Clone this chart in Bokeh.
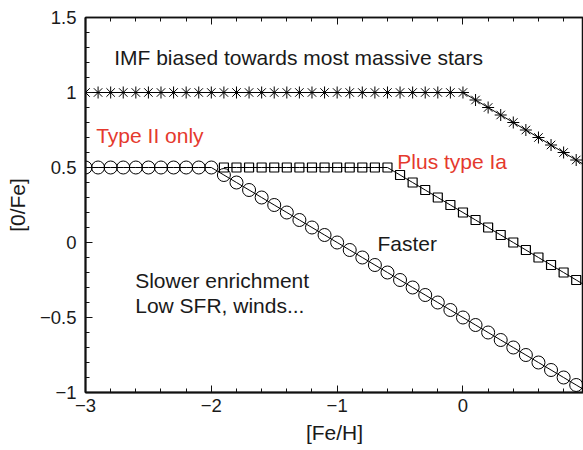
from bokeh.plotting import figure
from bokeh.models import (Range1d, LinearAxis, FixedTicker, CustomJSTickFormatter, Label,
                          CustomLabelingPolicy)
from bokeh.embed import file_html
from bokeh.resources import INLINE

# ---- data ----
stars_x = [-3.0, -2.9, -2.8, -2.7, -2.6, -2.5, -2.4, -2.3, -2.2, -2.1,
           -2.0, -1.9, -1.8, -1.7, -1.6, -1.5, -1.4, -1.3, -1.2, -1.1,
           -1.0, -0.9, -0.8, -0.7, -0.6, -0.5, -0.4, -0.3, -0.2, -0.1,
           0.0, 0.1, 0.2, 0.3, 0.4, 0.5, 0.6, 0.7, 0.8, 0.9, 1.0]
stars_y = [1.0, 1.0, 1.0, 1.0, 1.0, 1.0, 1.0, 1.0, 1.0, 1.0,
           1.0, 1.0, 1.0, 1.0, 1.0, 1.0, 1.0, 1.0, 1.0, 1.0,
           1.0, 1.0, 1.0, 1.0, 1.0, 1.0, 1.0, 1.0, 1.0, 1.0,
           1.0, 0.95, 0.90, 0.85, 0.80, 0.75, 0.70, 0.65, 0.60, 0.55, 0.50]

circles_x = [-3.0, -2.9, -2.8, -2.7, -2.6, -2.5, -2.4, -2.3, -2.2, -2.1,
             -2.0, -1.9, -1.8, -1.7, -1.6, -1.5, -1.4, -1.3, -1.2, -1.1,
             -1.0, -0.9, -0.8, -0.7, -0.6, -0.5, -0.4, -0.3, -0.2, -0.1,
             0.0, 0.1, 0.2, 0.3, 0.4, 0.5, 0.6, 0.7, 0.8, 0.9, 1.0]
circles_y = [0.5, 0.5, 0.5, 0.5, 0.5, 0.5, 0.5, 0.5, 0.5, 0.5,
             0.5, 0.45, 0.40, 0.35, 0.30, 0.25, 0.20, 0.15, 0.10, 0.05,
             0.0, -0.05, -0.10, -0.15, -0.20, -0.25, -0.30, -0.35, -0.40, -0.45,
             -0.50, -0.55, -0.60, -0.65, -0.70, -0.75, -0.80, -0.85, -0.90, -0.95, -1.0]

squares_x = [-1.9, -1.8, -1.7, -1.6, -1.5, -1.4, -1.3, -1.2, -1.1,
             -1.0, -0.9, -0.8, -0.7, -0.6, -0.5, -0.4, -0.3, -0.2, -0.1,
             0.0, 0.1, 0.2, 0.3, 0.4, 0.5, 0.6, 0.7, 0.8, 0.9, 1.0]
squares_y = [0.5, 0.5, 0.5, 0.5, 0.5, 0.5, 0.5, 0.5, 0.5,
             0.5, 0.5, 0.5, 0.5, 0.5, 0.45, 0.40, 0.35, 0.30, 0.25,
             0.20, 0.15, 0.10, 0.05, 0.0, -0.05, -0.10, -0.15, -0.20, -0.25, -0.30]

x_major = [-3, -2, -1, 0]
x_minor = [-2.8, -2.6, -2.4, -2.2, -1.8, -1.6, -1.4, -1.2,
           -0.8, -0.6, -0.4, -0.2, 0.2, 0.4, 0.6, 0.8]
y_major = [-1, -0.5, 0, 0.5, 1, 1.5]
y_minor = [-0.9, -0.8, -0.7, -0.6, -0.4, -0.3, -0.2, -0.1,
           0.1, 0.2, 0.3, 0.4, 0.6, 0.7, 0.8, 0.9,
           1.1, 1.2, 1.3, 1.4]

FONT = "Liberation Sans"
RED = "#e5392d"
TXT = "#1a1a1a"

p = figure(width=583, height=450, output_backend="svg", toolbar_location=None,
           x_range=Range1d(-3, 0.958), y_range=Range1d(-1, 1.5),
           min_border_left=85, min_border_right=0, min_border_top=17,
           min_border_bottom=58,
           x_axis_label="[Fe/H]", y_axis_label="[0/Fe]")
p.grid.visible = False
p.outline_line_color = "#111111"
p.outline_line_width = 1.5
p.background_fill_color = "white"
p.border_fill_color = "white"

fmt = CustomJSTickFormatter(code="""
    if (tick < 0) { return "\\u2212" + Math.abs(tick).toString(); }
    return tick.toString();
""")

bottom = p.below[0]
left = p.left[0]
top = LinearAxis()
p.add_layout(top, "above")

for ax in [bottom, top]:
    ax.ticker = FixedTicker(ticks=x_major, minor_ticks=x_minor)
left.ticker = FixedTicker(ticks=y_major, minor_ticks=y_minor)

for ax in [bottom, left, top]:
    ax.formatter = fmt
    ax.axis_line_color = "#111111"
    ax.axis_line_width = 2
    ax.major_tick_in = 7
    ax.major_tick_out = 0
    ax.minor_tick_in = 4
    ax.minor_tick_out = 0
    ax.major_tick_line_color = "#111111"
    ax.minor_tick_line_color = "#111111"
    ax.major_label_text_font = FONT
    ax.major_label_text_font_size = "18.5px"
    ax.major_label_text_color = TXT
    ax.axis_label_text_font = FONT
    ax.axis_label_text_font_size = "21px"
    ax.axis_label_text_font_style = "normal"
    ax.axis_label_text_color = TXT

top.axis_line_width = 1.5
top.major_label_standoff = 0
top.major_label_policy = CustomLabelingPolicy(code="""
    for (const i of indices) { indices.unset(i) }
    return indices
""")
bottom.major_label_standoff = 6
left.major_label_standoff = 9
bottom.axis_label_standoff = 6
left.axis_label_standoff = 8

# ---- series ----
p.line(stars_x, stars_y, line_color="black", line_width=1)
p.scatter(stars_x, stars_y, marker="asterisk", size=12, line_color="black", line_width=1)

p.line(squares_x, squares_y, line_color="black", line_width=1)
p.scatter(squares_x, squares_y, marker="square", size=9, fill_color=None,
          line_color="black", line_width=1.2)

p.line(circles_x, circles_y, line_color="black", line_width=1)
p.scatter(circles_x, circles_y, marker="circle", size=13, fill_color=None,
          line_color="black", line_width=1)

# ---- annotations ----
def lab(x, y, t, color):
    p.add_layout(Label(x=x, y=y, text=t, text_font=FONT, text_font_size="21px",
                       text_color=color, text_align="left",
                       text_baseline="alphabetic"))

lab(-2.772, 1.233, "IMF biased towards most massive stars", TXT)
lab(-2.915, 0.711, "Type II only", RED)
lab(-0.522, 0.538, "Plus type Ia", RED)
lab(-0.68, -0.009, "Faster", TXT)
lab(-2.605, -0.251, "Slower enrichment", TXT)
lab(-2.605, -0.422, "Low SFR, winds...", TXT)

open("out.html", "w").write(file_html(p, INLINE))
